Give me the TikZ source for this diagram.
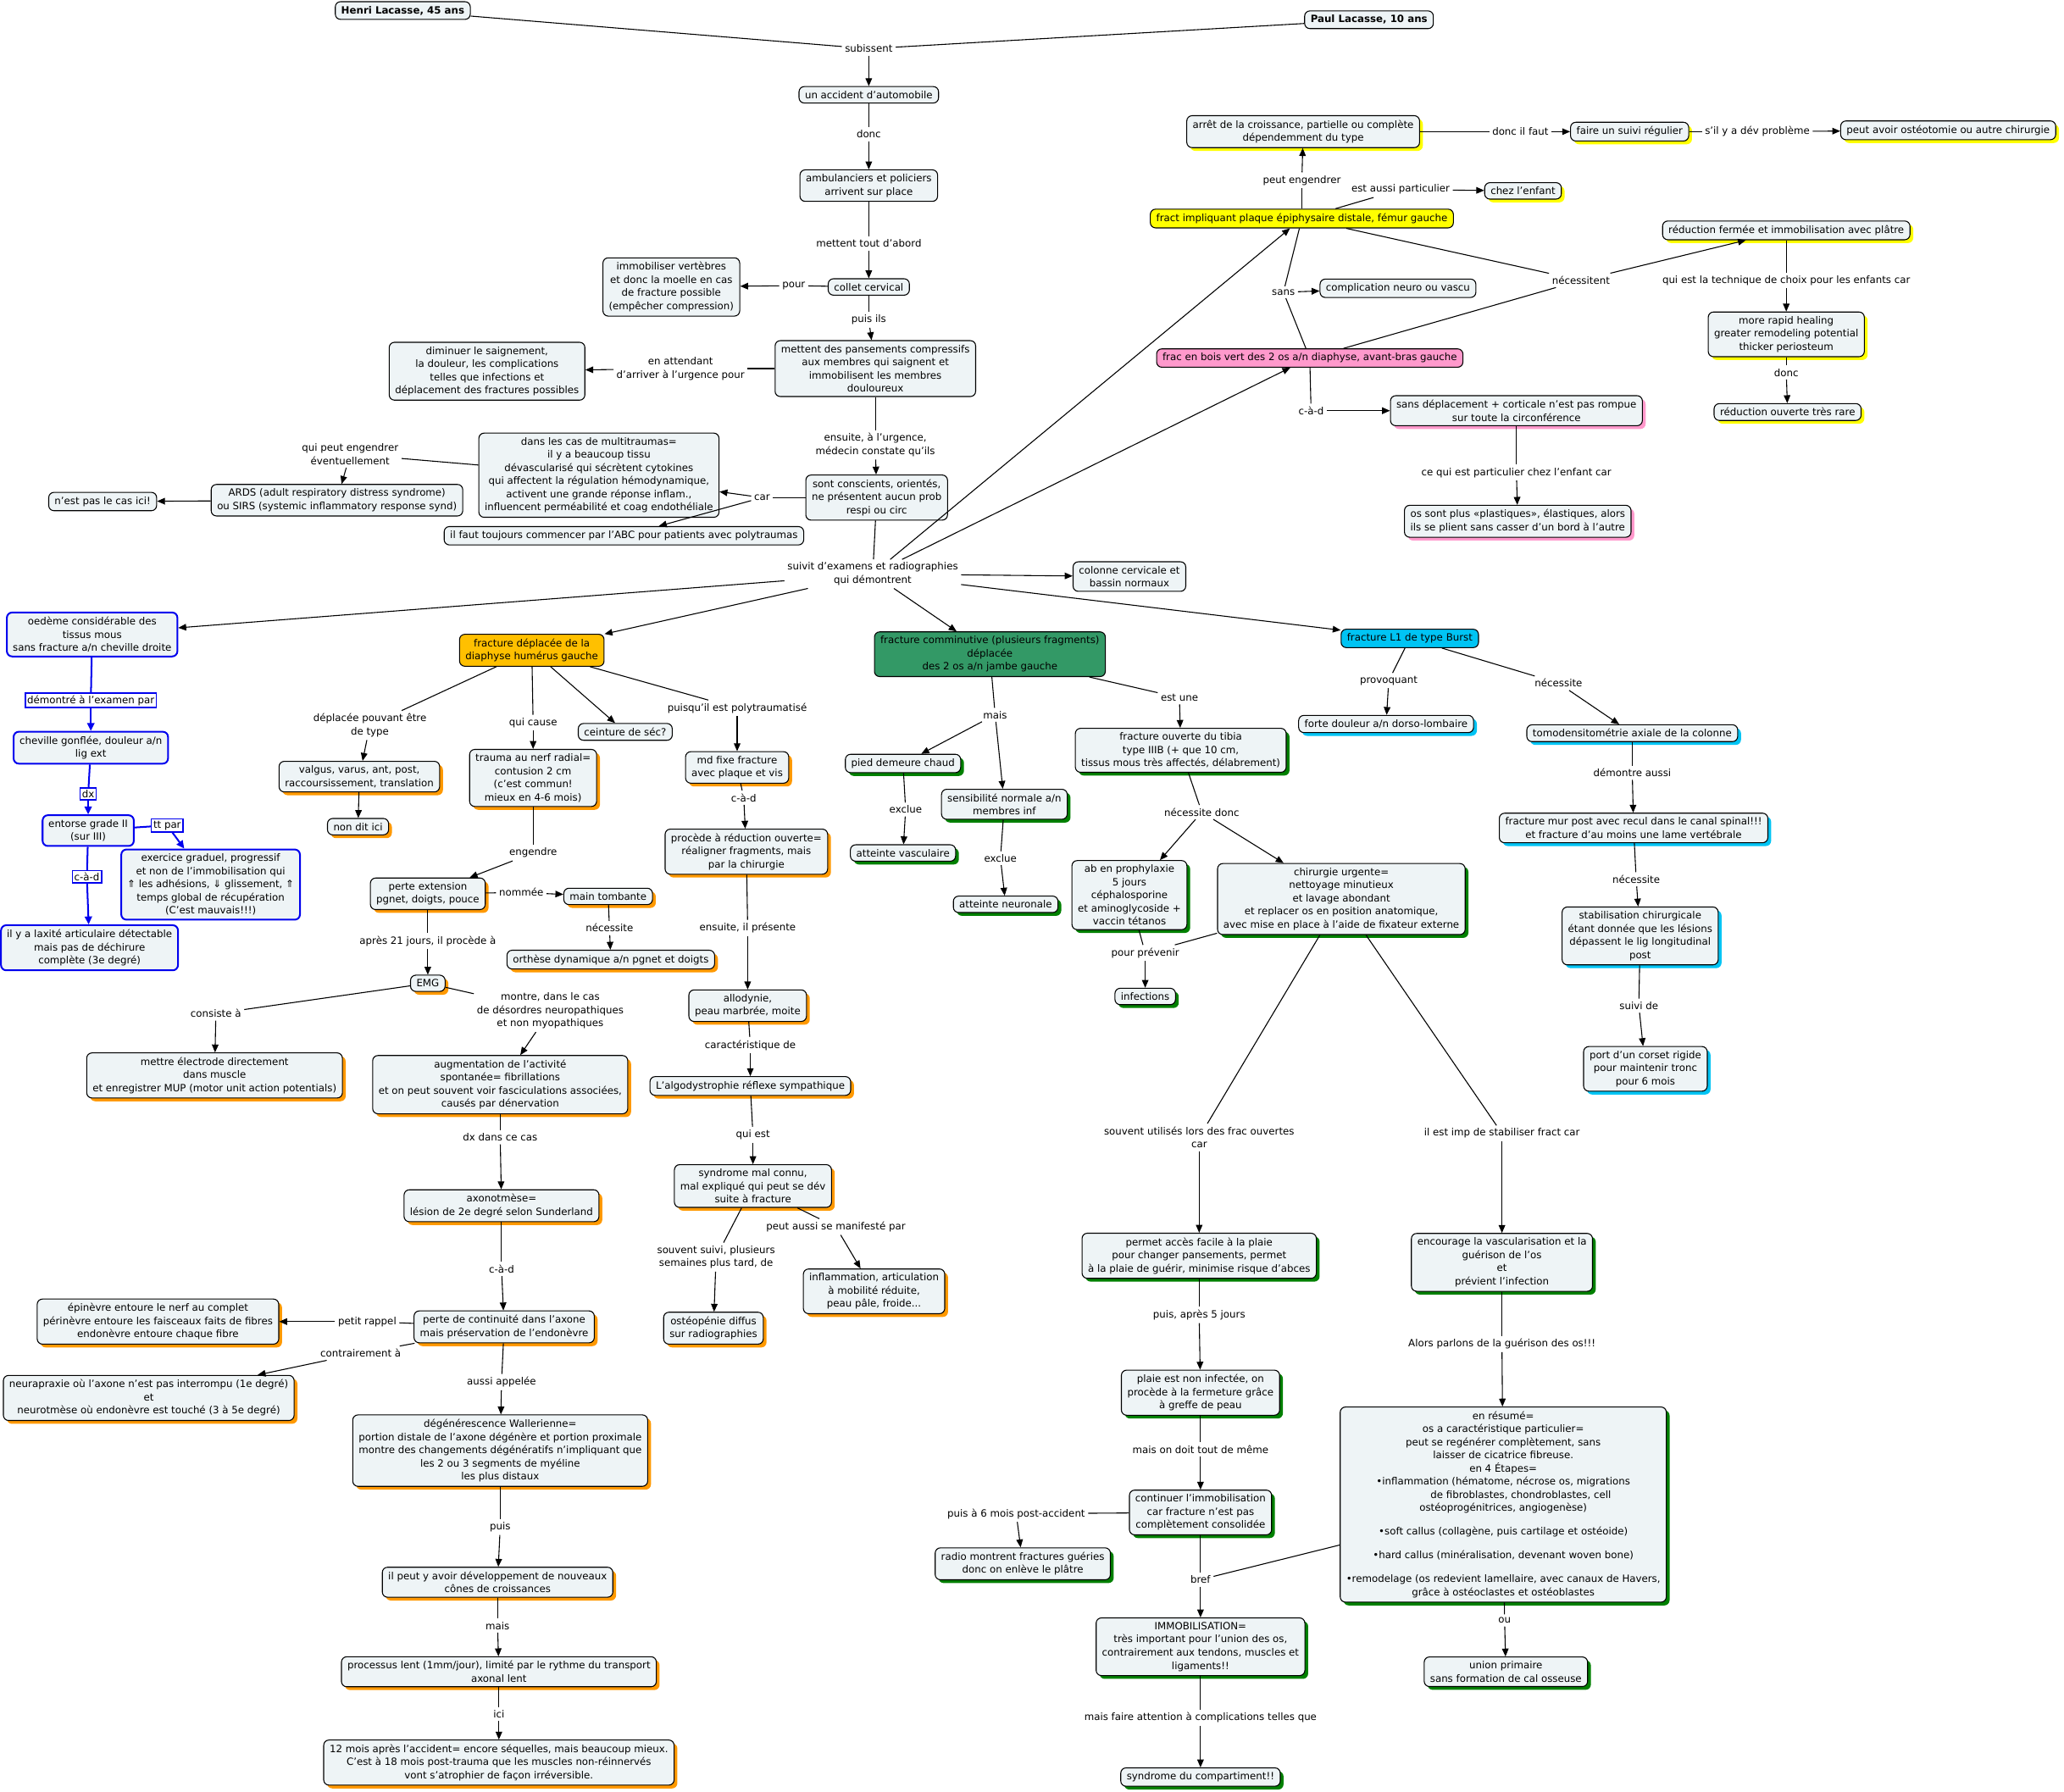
\documentclass[tikz,border=0pt]{standalone}
\usepackage{fontspec}
\setmainfont{DejaVu Sans}
\usetikzlibrary{arrows.meta,shadows}
\definecolor{cmfill}{HTML}{EEF4F6}
\definecolor{cmyellow}{HTML}{FFFF00}
\definecolor{cmpink}{HTML}{FF99CC}
\definecolor{cmorange}{HTML}{FF9900}
\definecolor{cmgold}{HTML}{FFC000}
\definecolor{cmgreen}{HTML}{008000}
\definecolor{cmsea}{HTML}{339966}
\definecolor{cmcyan}{HTML}{00C4F4}
\definecolor{cmblue}{HTML}{0000EE}

\begin{document}
\begin{tikzpicture}[x=1pt,y=-1pt,line width=.7pt,font=\fontsize{7.6}{10}\selectfont,
 box/.style={draw,rounded corners=4pt,fill=cmfill,align=center,inner xsep=4.5pt,inner ysep=3.3pt},
 shd/.style={box,drop shadow={shadow xshift=2.5pt,shadow yshift=-2.5pt,fill=#1,opacity=1}},
 yel/.style={shd=cmyellow},pnk/.style={shd=cmpink},org/.style={shd=cmorange},
 grn/.style={shd=cmgreen},cyn/.style={shd=cmcyan},
 nm/.style={box,font=\fontsize{7.6}{10}\selectfont\bfseries},
 blu/.style={box,draw=cmblue,line width=1.3pt},
 lbl/.style={align=center,inner sep=2pt},
 blbl/.style={draw=cmblue,line width=1pt,fill=white,inner sep=1.5pt},
 arr/.style={-{Triangle[length=6pt,width=5pt]}},
 barr/.style={cmblue,line width=1.3pt,-{Triangle[length=6pt,width=5.5pt]}}]
\path[use as bounding box,fill=white] (0,0) rectangle (1568,1361);

% accident
\node[nm] (henri) at (306,8) {Henri Lacasse, 45 ans};
\node[nm] (paul) at (1040,15) {Paul Lacasse, 10 ans};
\node[lbl] (lsub) at (660,37) {subissent};
\node[box] (accid) at (660,72) {un accident d'automobile};
\node[lbl] (ldonc) at (660,102) {donc};
\node[box] (ambul) at (660,141) {ambulanciers et policiers\\arrivent sur place};
\node[lbl] (lmet) at (660,185) {mettent tout d'abord};
\node[box] (collet) at (660,218) {collet cervical};
\node[lbl] (lpour) at (603,217) {pour};
\node[box] (immob) at (510,218) {immobiliser vertèbres\\et donc la moelle en cas\\de fracture possible\\(empêcher compression)};
\node[lbl] (lpuis) at (660,243) {puis ils};
\node[box] (pans) at (665,280) {mettent des pansements compressifs\\aux membres qui saignent et\\immobilisent les membres\\douloureux};
\node[lbl] (latt) at (517,280) {en attendant\\d'arriver à l'urgence pour};
\node[box] (dimin) at (370,282) {diminuer le saignement,\\la douleur, les complications\\telles que infections et\\déplacement des fractures possibles};
\node[lbl] (lurg) at (665,338) {ensuite, à l'urgence,\\médecin constate qu'ils};
\node[box] (consc) at (666,378) {sont conscients, orientés,\\ne présentent aucun prob\\respi ou circ};
\node[lbl] (lcar) at (579,378) {car};
\node[box] (multi) at (455,361) {dans les cas de multitraumas=\\il y a beaucoup tissu\\dévascularisé qui sécrètent cytokines\\qui affectent la régulation hémodynamique,\\activent une grande réponse inflam.,\\influencent perméabilité et coag endothéliale};
\node[box] (abc) at (474,407) {il faut toujours commencer par l'ABC pour patients avec polytraumas};
\node[lbl] (lengev) at (266,345) {qui peut engendrer\\éventuellement};
\node[box] (ards) at (256,380) {ARDS (adult respiratory distress syndrome)\\ou SIRS (systemic inflammatory response synd)};
\node[box] (nestpas) at (78,381) {n'est pas le cas ici!};
\node[lbl] (lsuiv) at (663,436) {suivit d'examens et radiographies\\qui démontrent};
\node[box] (colon) at (858,438) {colonne cervicale et\\bassin normaux};

% Paul
\node[box,fill=cmyellow] (epiph) at (989,166) {fract impliquant plaque épiphysaire distale, fémur gauche};
\node[lbl] (lpeng) at (989,137) {peut engendrer};
\node[yel] (arret) at (990,100) {arrêt de la croissance, partielle ou complète\\dépendemment du type};
\node[lbl] (ldif) at (1155,100) {donc il faut};
\node[yel] (suivi) at (1238,100) {faire un suivi régulier};
\node[lbl] (lsil) at (1335,100) {s'il y a dév problème};
\node[yel] (osteot) at (1480,99) {peut avoir ostéotomie ou autre chirurgie};
\node[lbl] (lpart) at (1064,144) {est aussi particulier};
\node[yel] (enfant) at (1157,145) {chez l'enfant};
\node[lbl] (lsans) at (975,222) {sans};
\node[box] (compl) at (1062,219) {complication neuro ou vascu};
\node[lbl] (lnec) at (1201,213) {nécessitent};
\node[box,fill=cmpink] (bois) at (995,272) {frac en bois vert des 2 os a/n diaphyse, avant-bras gauche};
\node[lbl] (lcad) at (996,312) {c-à-d};
\node[pnk] (sansdep) at (1152,312) {sans déplacement + corticale n'est pas rompue\\sur toute la circonférence};
\node[lbl] (lcqe) at (1152,359) {ce qui est particulier chez l'enfant car};
\node[pnk] (plast) at (1153,396) {os sont plus «plastiques», élastiques, alors\\ils se plient sans casser d'un bord à l'autre};
\node[yel] (redf) at (1357,175) {réduction fermée et immobilisation avec plâtre};
\node[lbl] (ltech) at (1357,213) {qui est la technique de choix pour les enfants car};
\node[yel] (rapid) at (1357,254) {more rapid healing\\greater remodeling potential\\thicker periosteum};
\node[lbl] (ldonc2) at (1357,283) {donc};
\node[yel] (redo) at (1358,313) {réduction ouverte très rare};

% cheville
\node[blu] (oedeme) at (70,482) {oedème considérable des\\tissus mous\\sans fracture a/n cheville droite};
\node[blbl] (ldem) at (69,532) {démontré à l'examen par};
\node[blu] (chev) at (69,568) {cheville gonflée, douleur a/n\\lig ext};
\node[blbl] (ldx) at (67,603) {dx};
\node[blu] (entor) at (67,631) {entorse grade II\\(sur III)};
\node[blbl] (ltt) at (127,627) {tt par};
\node[blu] (exerc) at (160,672) {exercice graduel, progressif\\et non de l'immobilisation qui\\⇑ les adhésions, ⇓ glissement, ⇑\\temps global de récupération\\(C'est mauvais!!!)};
\node[blbl] (lcad2) at (66,666) {c-à-d};
\node[blu] (laxi) at (68,720) {il y a laxité articulaire détectable\\mais pas de déchirure\\complète (3e degré)};

% humerus
\node[box,fill=cmgold] (humer) at (404,494) {fracture déplacée de la\\diaphyse humérus gauche};
\node[lbl] (ltype) at (281,551) {déplacée pouvant être\\de type};
\node[org] (valg) at (273,590) {valgus, varus, ant, post,\\raccoursissement, translation};
\node[org] (nondit) at (272,628) {non dit ici};
\node[lbl] (lcause) at (405,549) {qui cause};
\node[org] (trauma) at (405,591) {trauma au nerf radial=\\contusion 2 cm\\(c'est commun!\\mieux en 4-6 mois)};
\node[box] (ceint) at (475,556) {ceinture de séc?};
\node[lbl] (lpoly) at (560,538) {puisqu'il est polytraumatisé};
\node[org] (mdfix) at (560,583) {md fixe fracture\\avec plaque et vis};
\node[lbl] (lcad3) at (565,606) {c-à-d};
\node[org] (reduv) at (567,647) {procède à réduction ouverte=\\réaligner fragments, mais\\par la chirurgie};
\node[lbl] (lpres) at (568,705) {ensuite, il présente};
\node[org] (allod) at (568,764) {allodynie,\\peau marbrée, moite};
\node[lbl] (lcar2) at (570,794) {caractéristique de};
\node[org] (algo) at (570,825) {L'algodystrophie réflexe sympathique};
\node[lbl] (lqui) at (572,862) {qui est};
\node[org] (syndr) at (572,901) {syndrome mal connu,\\mal expliqué qui peut se dév\\suite à fracture};
\node[lbl] (lsouv) at (544,955) {souvent suivi, plusieurs\\semaines plus tard, de};
\node[org] (osteop) at (542,1009) {ostéopénie diffus\\sur radiographies};
\node[lbl] (lmanif) at (635,932) {peut aussi se manifesté par};
\node[org] (inflam) at (664,981) {inflammation, articulation\\à mobilité réduite,\\peau pâle, froide...};
\node[lbl] (leng) at (405,648) {engendre};
\node[org] (perte) at (325,679) {perte extension\\pgnet, doigts, pouce};
\node[lbl] (lnom) at (396,678) {nommée};
\node[org] (main) at (462,681) {main tombante};
\node[lbl] (lnec2) at (463,705) {nécessite};
\node[org] (orth) at (464,729) {orthèse dynamique a/n pgnet et doigts};
\node[lbl] (l21) at (325,715) {après 21 jours, il procède à};
\node[org] (emg) at (325,747) {EMG};
\node[lbl] (lcons) at (164,770) {consiste à};
\node[org] (electr) at (163,817) {mettre électrode directement\\dans muscle\\et enregistrer MUP (motor unit action potentials)};
\node[lbl] (lmontre) at (418,768) {montre, dans le cas\\de désordres neuropathiques\\et non myopathiques};
\node[org] (augm) at (380,824) {augmentation de l'activité\\spontanée= fibrillations\\et on peut souvent voir fasciculations associées,\\causés par dénervation};
\node[lbl] (ldx2) at (380,864) {dx dans ce cas};
\node[org] (axono) at (381,916) {axonotmèse=\\lésion de 2e degré selon Sunderland};
\node[lbl] (lcad4) at (381,964) {c-à-d};
\node[org] (contax) at (383,1008) {perte de continuité dans l'axone\\mais préservation de l'endonèvre};
\node[lbl] (lrap) at (279,1004) {petit rappel};
\node[org] (epin) at (120,1004) {épinèvre entoure le nerf au complet\\périnèvre entoure les faisceaux faits de fibres\\endonèvre entoure chaque fibre};
\node[lbl] (lcontr) at (274,1028) {contrairement à};
\node[org] (neura) at (113,1062) {neurapraxie où l'axone n'est pas interrompu (1e degré)\\et\\neurotmèse où endonèvre est touché (3 à 5e degré)};
\node[lbl] (laussi) at (381,1050) {aussi appelée};
\node[org] (waller) at (380,1102) {dégénérescence Wallerienne=\\portion distale de l'axone dégénère et portion proximale\\montre des changements dégénératifs n'impliquant que\\les 2 ou 3 segments de myéline\\les plus distaux};
\node[lbl] (lpuis2) at (380,1160) {puis};
\node[org] (cones) at (378,1202) {il peut y avoir développement de nouveaux\\cônes de croissances};
\node[lbl] (lmais) at (378,1235) {mais};
\node[org] (lent) at (379,1270) {processus lent (1mm/jour), limité par le rythme du transport\\axonal lent};
\node[lbl] (lici) at (379,1302) {ici};
\node[org] (douze) at (379,1339) {12 mois après l'accident= encore séquelles, mais beaucoup mieux.\\C'est à 18 mois post-trauma que les muscles non-réinnervés\\vont s'atrophier de façon irréversible.};

% jambe
\node[box,fill=cmsea] (commin) at (752,497) {fracture comminutive (plusieurs fragments)\\déplacée\\des 2 os a/n jambe gauche};
\node[lbl] (lmais2) at (756,543) {mais};
\node[grn] (pied) at (686,580) {pied demeure chaud};
\node[lbl] (lexc) at (688,615) {exclue};
\node[grn] (vasc) at (686,648) {atteinte vasculaire};
\node[grn] (sensi) at (763,611) {sensibilité normale a/n\\membres inf};
\node[lbl] (lexc2) at (760,652) {exclue};
\node[grn] (neuro) at (764,687) {atteinte neuronale};
\node[lbl] (lest) at (896,530) {est une};
\node[grn] (tibia) at (897,570) {fracture ouverte du tibia\\type IIIB (+ que 10 cm,\\tissus mous très affectés, délabrement)};
\node[lbl] (lnecd) at (913,617) {nécessite donc};
\node[grn] (abpro) at (858,680) {ab en prophylaxie\\5 jours\\céphalosporine\\et aminoglycoside +\\vaccin tétanos};
\node[lbl] (lprev) at (870,724) {pour prévenir};
\node[grn] (infec) at (870,757) {infections};
\node[grn] (chir) at (1019,683) {chirurgie urgente=\\nettoyage minutieux\\et lavage abondant\\et replacer os en position anatomique,\\avec mise en place à l'aide de fixateur externe};
\node[lbl] (lfrac) at (911,864) {souvent utilisés lors des frac ouvertes\\car};
\node[grn] (acces) at (911,954) {permet accès facile à la plaie\\pour changer pansements, permet\\à la plaie de guérir, minimise risque d'abces};
\node[lbl] (l5j) at (911,999) {puis, après 5 jours};
\node[grn] (plaie) at (912,1058) {plaie est non infectée, on\\procède à la fermeture grâce\\à greffe de peau};
\node[lbl] (lmeme) at (912,1101) {mais on doit tout de même};
\node[grn] (contin) at (912,1149) {continuer l'immobilisation\\car fracture n'est pas\\complètement consolidée};
\node[lbl] (l6m) at (772,1150) {puis à 6 mois post-accident};
\node[grn] (radio) at (777,1188) {radio montrent fractures guéries\\donc on enlève le plâtre};
\node[lbl] (lbref) at (912,1200) {bref};
\node[grn] (immo) at (912,1251) {IMMOBILISATION=\\très important pour l'union des os,\\contrairement aux tendons, muscles et\\ligaments!!};
\node[lbl] (latt2) at (912,1305) {mais faire attention à complications telles que};
\node[grn] (compart) at (912,1350) {syndrome du compartiment!!};
\node[lbl] (lstab) at (1141,861) {il est imp de stabiliser fract car};
\node[grn] (vascu) at (1141,959) {encourage la vascularisation et la\\guérison de l'os\\et\\prévient l'infection};
\node[lbl] (lalors) at (1141,1021) {Alors parlons de la guérison des os!!!};
\node[grn] (resume) at (1142,1143) {en résumé=\\os a caractéristique particulier=\\peut se regénérer complètement, sans\\laisser de cicatrice fibreuse.\\en 4 Étapes=\\•inflammation (hématome, nécrose os, migrations\\\hspace*{3.5em}de fibroblastes, chondroblastes, cell\\ostéoprogénitrices, angiogenèse)\\[8pt]•soft callus (collagène, puis cartilage et ostéoide)\\[8pt]•hard callus (minéralisation, devenant woven bone)\\[8pt]•remodelage (os redevient lamellaire, avec canaux de Havers,\\grâce à ostéoclastes et ostéoblastes};
\node[lbl] (lou) at (1143,1231) {ou};
\node[grn] (union) at (1144,1270) {union primaire\\sans formation de cal osseuse};

% colonne
\node[box,fill=cmcyan] (burst) at (1071,485) {fracture L1 de type Burst};
\node[lbl] (lprov) at (1055,517) {provoquant};
\node[cyn] (doul) at (1053,550) {forte douleur a/n dorso-lombaire};
\node[lbl] (lnec3) at (1184,519) {nécessite};
\node[cyn] (tomo) at (1240,557) {tomodensitométrie axiale de la colonne};
\node[lbl] (ldema) at (1240,587) {démontre aussi};
\node[cyn] (mur) at (1241,629) {fracture mur post avec recul dans le canal spinal!!!\\et fracture d'au moins une lame vertébrale};
\node[lbl] (lnec4) at (1243,668) {nécessite};
\node[cyn] (stabc) at (1246,711) {stabilisation chirurgicale\\étant donnée que les lésions\\dépassent le lig longitudinal\\post};
\node[lbl] (lsuivi) at (1245,764) {suivi de};
\node[cyn] (corset) at (1250,812) {port d'un corset rigide\\pour maintenir tronc\\pour 6 mois};

\foreach \a/\b in {henri/lsub,paul/lsub,accid/ldonc,ambul/lmet,collet/lpour,collet/lpuis,pans/latt,pans/lurg,
 consc/lcar,multi/lengev,consc/lsuiv,epiph/lpeng,arret/ldif,suivi/lsil,epiph/lpart,epiph/lsans,bois/lsans,
 epiph/lnec,bois/lnec,bois/lcad,sansdep/lcqe,redf/ltech,rapid/ldonc2,humer/ltype,humer/lcause,humer/lpoly,
 mdfix/lcad3,reduv/lpres,allod/lcar2,algo/lqui,syndr/lsouv,syndr/lmanif,trauma/leng,perte/lnom,main/lnec2,
 perte/l21,emg/lcons,emg/lmontre,augm/ldx2,axono/lcad4,contax/lrap,contax/lcontr,contax/laussi,waller/lpuis2,
 cones/lmais,lent/lici,commin/lmais2,pied/lexc,sensi/lexc2,commin/lest,tibia/lnecd,abpro/lprev,chir/lprev,
 chir/lfrac,acces/l5j,plaie/lmeme,contin/l6m,contin/lbref,resume/lbref,immo/latt2,chir/lstab,vascu/lalors,
 resume/lou,burst/lprov,burst/lnec3,tomo/ldema,mur/lnec4,stabc/lsuivi}
 \draw (\a) -- (\b);
\foreach \a/\b in {lsub/accid,ldonc/ambul,lmet/collet,lpour/immob,lpuis/pans,latt/dimin,lurg/consc,lcar/multi,
 lcar/abc,lengev/ards,ards/nestpas,lsuiv/colon,lsuiv/oedeme,lsuiv/humer,lsuiv/commin,lsuiv/burst,lsuiv/epiph,
 lsuiv/bois,lpeng/arret,ldif/suivi,lsil/osteot,lpart/enfant,lsans/compl,lnec/redf,lcad/sansdep,lcqe/plast,
 ltech/rapid,ldonc2/redo,ltype/valg,valg/nondit,lcause/trauma,humer/ceint,lpoly/mdfix,lcad3/reduv,lpres/allod,
 lcar2/algo,lqui/syndr,lsouv/osteop,lmanif/inflam,leng/perte,lnom/main,lnec2/orth,l21/emg,lcons/electr,
 lmontre/augm,ldx2/axono,lcad4/contax,lrap/epin,lcontr/neura,laussi/waller,lpuis2/cones,lmais/lent,lici/douze,
 lmais2/pied,lmais2/sensi,lexc/vasc,lexc2/neuro,lest/tibia,lnecd/abpro,lnecd/chir,lprev/infec,lfrac/acces,
 l5j/plaie,lmeme/contin,l6m/radio,lbref/immo,latt2/compart,lstab/vascu,lalors/resume,lou/union,lprov/doul,
 lnec3/tomo,ldema/mur,lnec4/stabc,lsuivi/corset}
 \draw[arr] (\a) -- (\b);
\foreach \a/\b in {oedeme/ldem,chev/ldx,entor/ltt,entor/lcad2}
 \draw[cmblue,line width=1.3pt] (\a) -- (\b);
\foreach \a/\b in {ldem/chev,ldx/entor,ltt/exerc,lcad2/laxi}
 \draw[barr] (\a) -- (\b);
\end{tikzpicture}
\end{document}
